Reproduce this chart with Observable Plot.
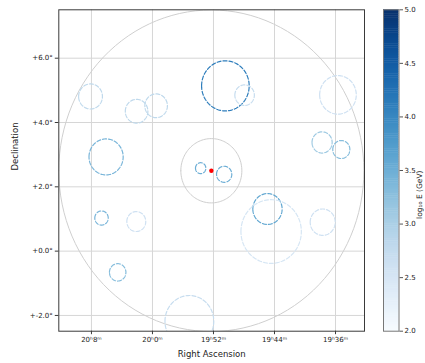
<!DOCTYPE html>
<html><head><meta charset="utf-8">
<script src="https://cdn.jsdelivr.net/npm/d3@7"></script>
<script src="https://cdn.jsdelivr.net/npm/@observablehq/plot@0.6"></script>
<style>
body{margin:0;background:#fff;}
#wrap{position:relative;width:425px;height:363px;font-family:"DejaVu Sans",sans-serif;}
#wrap svg{position:absolute;left:0;top:0;background:none;}
</style></head><body><div id="wrap"></div>
<script>
// ---- data ----
const fovCenterRA = 298.07, fovCenterDec = 2.50;
const fovRadius = 5.0;        // big field-of-view circle (deg)
const innerRadius = 1.0;      // inner circle (deg)

const circleRA     = [302.03, 300.52, 299.88, 301.52, 297.61, 296.98, 298.42, 297.65, 293.92, 294.44, 293.81, 301.67, 300.53, 301.14, 296.23, 296.11, 294.42, 298.79];
const circleDec    = [4.81, 4.35, 4.52, 2.93, 5.14, 4.85, 2.58, 2.39, 4.86, 3.38, 3.16, 1.03, 0.92, -0.66, 1.31, 0.61, 0.90, -2.18];
const circleRadius = [0.39, 0.37, 0.37, 0.56, 0.78, 0.32, 0.17, 0.25, 0.60, 0.33, 0.28, 0.22, 0.31, 0.27, 0.48, 0.99, 0.41, 0.80];
const circleLogE   = [2.8, 2.8, 2.8, 3.4, 4.1, 2.7, 3.5, 3.5, 2.6, 3.1, 3.3, 3.4, 2.6, 3.3, 3.6, 2.5, 2.6, 2.7];

const raTicks = [302, 300, 298, 296, 294];
const raTickLabels = ["20ʰ8ᵐ", "20ʰ0ᵐ", "19ʰ52ᵐ", "19ʰ44ᵐ", "19ʰ36ᵐ"];
const decTicks = [-2, 0, 2, 4, 6];
const decTickLabels = ["+-2.0°", "+0.0°", "+2.0°", "+4.0°", "+6.0°"];
const cbTicks = [2.0, 2.5, 3.0, 3.5, 4.0, 4.5, 5.0];
const cbDomain = [2, 5];

// ---- geometry helpers (circle outlines from center + radius) ----
function ring(id, ra, dec, r, v) {
  const n = 120, pts = [];
  for (let k = 0; k <= n; k++) {
    const t = 2 * Math.PI * k / n;
    pts.push({id, ra: ra + r * Math.cos(t), dec: dec + r * Math.sin(t), v});
  }
  return pts;
}
const circles = circleRA.flatMap((ra, i) => ring(i, ra, circleDec[i], circleRadius[i], circleLogE[i]));
const fov = ring("fov", fovCenterRA, fovCenterDec, fovRadius, 0);
const inner = ring("inner", fovCenterRA, fovCenterDec, innerRadius, 0);

const W = 425, H = 363;
const mL = 58.3, mT = 9.3, mR = W - 364, mB = H - 330.7;
const colorOpt = {type: "linear", scheme: "blues", domain: cbDomain};

const main = Plot.plot({
  width: W, height: H,
  marginLeft: mL, marginTop: mT, marginRight: mR, marginBottom: mB,
  style: {fontFamily: "DejaVu Sans", background: "transparent", color: "#222"},
  x: {domain: [303.07, 293.05]},
  y: {domain: [-2.49, 7.505]},
  color: colorOpt,
  marks: [
    Plot.ruleX(raTicks, {stroke: "#d6d6d6", strokeWidth: 1}),
    Plot.ruleY(decTicks, {stroke: "#d6d6d6", strokeWidth: 1}),
    Plot.line(fov, {x: "ra", y: "dec", stroke: "#cfcfcf", strokeWidth: 1, clip: true}),
    Plot.line(inner, {x: "ra", y: "dec", stroke: "#cfcfcf", strokeWidth: 1, clip: true}),
    Plot.line(circles, {x: "ra", y: "dec", z: "id", stroke: "v", strokeWidth: 1.2, strokeDasharray: "4,2", clip: true}),
    Plot.dot([{ra: fovCenterRA, dec: fovCenterDec}], {x: "ra", y: "dec", r: 2.2, fill: "red", stroke: "none"}),
    Plot.frame({stroke: "#3a3a3a", strokeWidth: 1}),
    Plot.axisX(raTicks, {tickFormat: d => raTickLabels[raTicks.indexOf(d)], tickSize: 3.5, tickPadding: 2.5, fontSize: 7, label: null, stroke: "#3a3a3a", fill: "#222"}),
    Plot.axisY(decTicks, {tickFormat: d => decTickLabels[decTicks.indexOf(d)], tickSize: 3.5, tickPadding: 2.5, fontSize: 7, label: null, stroke: "#3a3a3a", fill: "#222"}),
    Plot.text(["Right Ascension"], {frameAnchor: "bottom", dy: 26, fontSize: 8.5, fill: "#222"}),
    Plot.text(["Declination"], {frameAnchor: "left", dx: -44, rotate: -90, fontSize: 8.5, fill: "#222"})
  ]
});

// ---- colorbar ----
const step = 0.02;
const bands = d3.range(cbDomain[0], cbDomain[1], step).map(v => ({y1: v, y2: Math.min(cbDomain[1], v + step * 1.2), v: v + step / 2}));
const cb = Plot.plot({
  width: W, height: H,
  marginLeft: 383, marginRight: W - 398.5, marginTop: mT, marginBottom: mB,
  style: {fontFamily: "DejaVu Sans", background: "transparent", color: "#222"},
  x: {domain: [0, 1], axis: null},
  y: {domain: cbDomain},
  color: colorOpt,
  marks: [
    Plot.rect(bands, {x1: 0, x2: 1, y1: "y1", y2: "y2", fill: "v"}),
    Plot.frame({stroke: "#777", strokeWidth: 1}),
    Plot.axisY(cbTicks, {anchor: "right", tickFormat: d => d.toFixed(1), tickSize: 3.5, tickPadding: 2, fontSize: 7, label: null, stroke: "#555", fill: "#222"}),
    Plot.text(["log₁₀ E (GeV)"], {frameAnchor: "right", dx: 21, rotate: -90, fontSize: 7.5, fill: "#222"})
  ]
});

const wrap = document.getElementById("wrap");
wrap.appendChild(main);
wrap.appendChild(cb);
</script>
</body></html>
